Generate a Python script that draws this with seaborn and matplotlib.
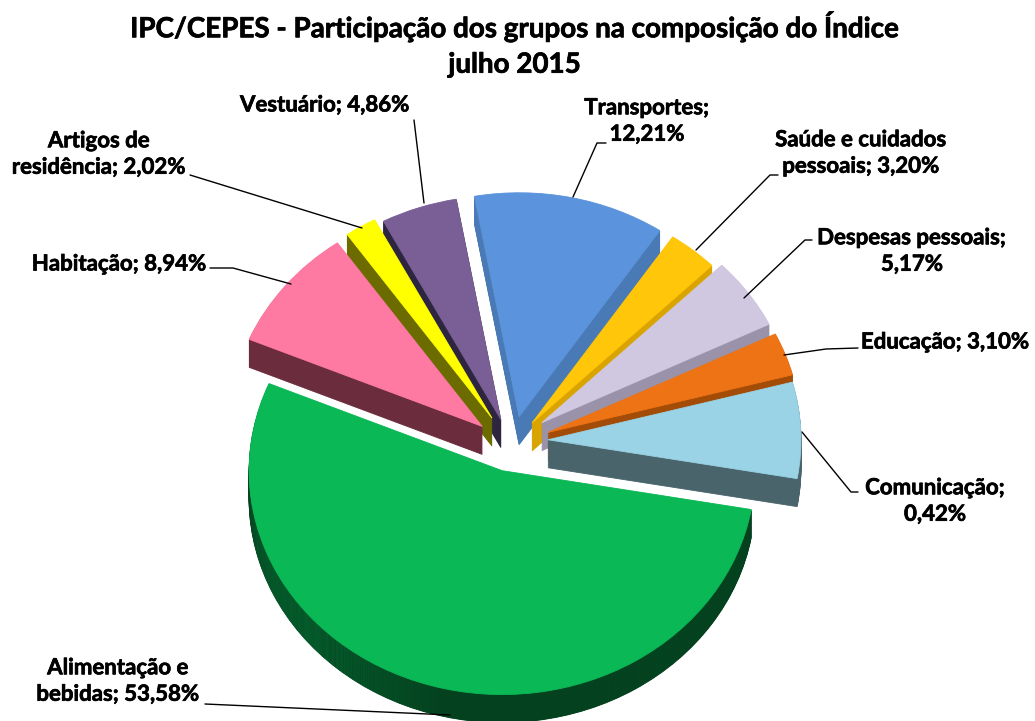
import numpy as np
import matplotlib
matplotlib.use("Agg")
import matplotlib.pyplot as plt
import matplotlib.patheffects as pe
import seaborn as sns

# dados do grafico (sentido horario, a partir de Alimentacao)
grupos = ["Alimentação", "Habitação", "Artigos", "Vestuário", "Transportes",
          "Saúde", "Despesas", "Educação", "Comunicação"]
fatias = [53.58, 8.94, 2.02, 4.86, 12.21, 3.20, 5.17, 3.10, 6.92]
cores_topo = ["#0ab856", "#ff7aa2", "#ffff00", "#7a5f96", "#5b94dc",
              "#ffc60a", "#d0c8e0", "#ee7314", "#99d3e5"]
cores_lado = ["#04411f", "#6b2c3e", "#6b6b00", "#2e2540", "#4a7ab5",
              "#d9a300", "#9a92a8", "#a34c08", "#4a646c"]
afastamento = [42, 28, 25, 22, 20, 22, 28, 31, 33]
ajuste_x = [2, -8, -7, -4, 3, 6, 7, 7, 3]
ajuste_y = [-3, -10, -5, -6, -2, -6, -5, -10, -9]
ordem_fundo = [4, 3, 5, 2, 6, 1, 7, 8, 0]

titulo = "IPC/CEPES - Participação dos grupos na composição do Índice\njulho 2015"
rotulos = [
    ("Vestuário; 4,86%", 325, 105),
    ("Transportes;\n12,21%", 647, 121),
    ("Saúde e cuidados\npessoais; 3,20%", 861, 153),
    ("Despesas pessoais;\n5,17%", 912, 251),
    ("Educação; 3,10%", 945, 342),
    ("Comunicação;\n0,42%", 935, 501),
    ("Artigos de\nresidência; 2,02%", 99, 154),
    ("Habitação; 8,94%", 119, 264),
    ("Alimentação e\nbebidas; 53,58%", 118, 681),
]
guias = [
    ([414, 424], [120, 203]),
    ([606, 597, 573], [143, 143, 197]),
    ([778, 770, 696], [175, 175, 250]),
    ([812, 805, 744], [240, 240, 298]),
    ([858, 826, 784], [348, 349, 355]),
    ([858, 851, 802], [492, 492, 432]),
    ([190, 362], [175, 228]),
    ([210, 233, 291], [268, 268, 284]),
    ([205, 450], [704, 715]),
]

sns.set_theme(style="white")
plt.rcParams["font.family"] = ["Lato", "DejaVu Sans"]

LARG, ALT = 1035, 721
achatar = 0.885
cx, cy = 512, 432
raio = 253
prof = 28


def py(y):
    return (ALT - y) / achatar


fig = plt.figure(figsize=(LARG / 100, ALT / 100), dpi=100)
ax = fig.add_axes([0, 0, 1, 1])


def desenha(dy, cores, z):
    cunhas, _ = ax.pie(fatias, explode=afastamento, colors=cores, startangle=-10,
                       counterclock=False, radius=raio, center=(cx, py(cy + dy)),
                       normalize=True, frame=True)
    for i, w in enumerate(cunhas):
        x0, y0 = w.center
        w.set_center((x0 + ajuste_x[i], y0 + ajuste_y[i] / achatar))
        w.set_linewidth(0.6)
        w.set_edgecolor(cores[i])
        w.set_zorder(z[i])
    return cunhas


rank = {g: r for r, g in enumerate(ordem_fundo)}
gradiente = np.interp(np.linspace(247, 753, 256), [247, 330, 450, 753], [0.0, 0.5, 1.0, 0.9])
c_a = np.array(matplotlib.colors.to_rgb("#0b9a4c"))
c_b = np.array(matplotlib.colors.to_rgb("#04411f"))
img = (c_a[None, :] * (1 - gradiente[:, None]) + c_b[None, :] * gradiente[:, None])[None, :, :]

for dy in range(prof, 0, -1):
    z = [10 * rank[i] + 1 + (prof - dy) * 0.01 for i in range(len(fatias))]
    cunhas = desenha(dy, cores_lado, z)
    # sombreado da parede externa da fatia grande
    im = ax.imshow(img, extent=(247, 753, 0, ALT / achatar), aspect="auto",
                   zorder=z[0] + 0.001)
    im.set_clip_path(cunhas[0])

z_topo = [10 * rank[i] + 3 for i in range(len(fatias))]
desenha(0, cores_topo, z_topo)

ax.set_aspect("auto")
ax.set_xlim(0, LARG)
ax.set_ylim(0, ALT / achatar)
ax.axis("off")

for xs, ys in guias:
    ax.plot(xs, [py(v) for v in ys], color="black", lw=1.0, zorder=200)

negrito = [pe.withStroke(linewidth=0.5, foreground="black")]
for txt, x, y in rotulos:
    ax.text(x, py(y), txt, ha="center", va="center", fontsize=16, fontweight="bold",
            color="black", linespacing=1.32, zorder=210, path_effects=negrito)

ax.text(LARG / 2 - 3, py(44), titulo, ha="center", va="center", fontsize=20,
        fontweight="bold", color="black", linespacing=1.45, zorder=210, path_effects=negrito)

fig.savefig("out.png", dpi=100, facecolor="white")
